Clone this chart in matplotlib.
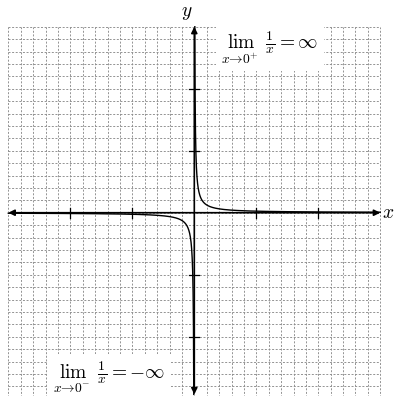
import numpy as np
import matplotlib.pyplot as plt

plt.rcParams['mathtext.fontset'] = 'cm'

# curve y = c / x
c = 0.025
x_ticks = [-2, -1, 1, 2]
y_ticks = [-2, -1, 1, 2]
grid_step = 0.2
axis_lim = 3.0

fig = plt.figure(figsize=(3.94, 3.96), dpi=100)
ax = fig.add_axes([0, 0, 1, 1])
ax.set_xlim(-3.134, 3.221)
ax.set_ylim(-2.956, 3.431)
ax.set_axis_off()

# dotted grid
grid = np.arange(-axis_lim, axis_lim + 1e-9, grid_step)
for g in grid:
    ax.plot([g, g], [-axis_lim, axis_lim], color='#8c8c8c', lw=0.65,
            dashes=(2.2, 1.8), zorder=1)
    ax.plot([-axis_lim, axis_lim], [g, g], color='#8c8c8c', lw=0.65,
            dashes=(2.2, 1.8), zorder=1)

# axes with arrows
arrow = dict(arrowstyle='<|-|>', lw=1.2, color='black', mutation_scale=9,
             shrinkA=0, shrinkB=0)
ax.annotate('', xy=(axis_lim, 0), xytext=(-axis_lim, 0), arrowprops=arrow, zorder=3)
ax.annotate('', xy=(0, axis_lim), xytext=(0, -2.93), arrowprops=arrow, zorder=3)

tick_len = 0.08
for t in x_ticks:
    ax.plot([t, t], [-tick_len, tick_len], color='black', lw=0.9, zorder=3)
for t in y_ticks:
    ax.plot([-tick_len, tick_len], [t, t], color='black', lw=0.9, zorder=3)

ax.text(3.03, 0, '$x$', fontsize=14, ha='left', va='center')
ax.text(-0.12, 3.08, '$y$', fontsize=14, ha='center', va='bottom')

# the two branches
xp = np.geomspace(c / axis_lim, axis_lim, 400)
xn = -np.geomspace(c / 2.93, axis_lim, 400)
ax.plot(xp, c / xp, color='black', lw=1.0, zorder=4)
ax.plot(xn, c / xn, color='black', lw=1.0, zorder=4)

box = dict(facecolor='white', edgecolor='none', pad=4)
ax.text(1.22, 2.67, r'$\lim_{x\to 0^+}\ \frac{1}{x} = \infty$', fontsize=14,
        ha='center', va='center', bbox=box, zorder=5)
ax.text(-1.37, -2.65, r'$\lim_{x\to 0^-}\ \frac{1}{x} = -\infty$', fontsize=14,
        ha='center', va='center', bbox=box, zorder=5)

fig.savefig('out.png', dpi=100)
